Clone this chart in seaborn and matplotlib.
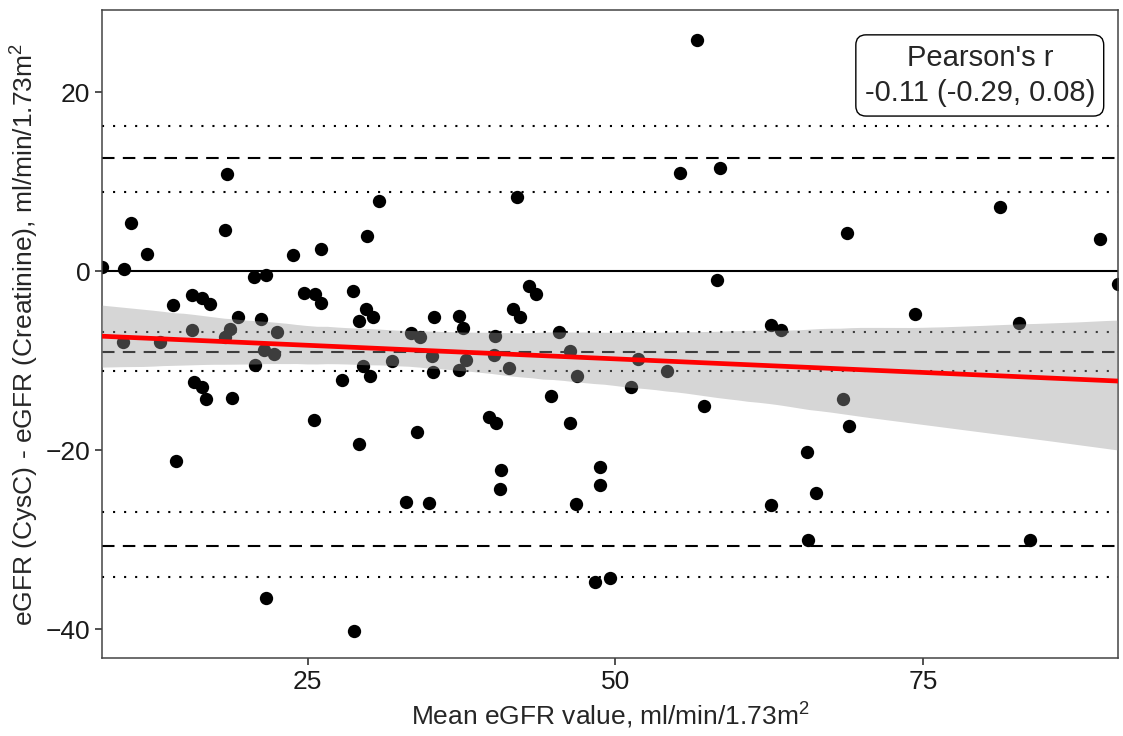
import matplotlib
matplotlib.use("Agg")
import matplotlib.pyplot as plt
import seaborn as sns
import numpy as np

# Mittelwert und Differenz je Patient
mean_egfr = [8.30, 10.08, 10.65, 11.92, 10.02, 13.03, 14.06, 14.33, 15.60, 15.65,
             15.76, 16.46, 16.46, 16.76, 17.11, 18.44, 18.25, 18.30, 18.71, 18.85,
             19.38, 21.61, 20.63, 20.74, 21.23, 21.49, 21.66, 22.28, 22.52, 23.80,
             24.69, 25.55, 25.61, 26.12, 26.12, 27.82, 28.69, 29.16, 29.20, 28.77,
             29.53, 29.75, 29.83, 30.05, 30.32, 30.83, 31.83, 33.00, 33.40, 33.86,
             34.16, 34.84, 35.13, 35.21, 35.29, 37.32, 37.32, 37.65, 37.89, 39.71,
             40.11, 40.24, 40.32, 40.68, 40.63, 41.38, 41.70, 41.98, 42.25, 42.95,
             43.52, 44.79, 45.39, 46.28, 46.31, 46.77, 46.88, 48.31, 48.72, 48.72,
             49.58, 51.28, 51.83, 54.16, 55.24, 56.64, 57.18, 58.24, 58.48, 62.60,
             62.65, 63.41, 65.54, 65.63, 66.25, 68.49, 68.81, 68.98, 74.29, 81.23,
             82.75, 83.62, 89.38, 90.80]
diff_egfr = [0.51, 0.26, 5.35, 1.93, -7.95, -7.91, -3.72, -21.24, -2.67, -6.54,
             -12.33, -2.94, -12.92, -14.22, -3.67, 10.91, 4.60, -7.32, -6.43, -14.11,
             -5.06, -36.49, -0.60, -10.43, -5.35, -8.84, -0.45, -9.21, -6.76, 1.82,
             -2.38, -16.56, -2.56, -3.56, 2.52, -12.10, -2.25, -5.50, -19.31, -40.13,
             -10.62, -4.23, 3.93, -11.66, -5.06, 7.86, -10.07, -25.72, -6.84, -17.93,
             -7.35, -25.91, -9.51, -11.29, -5.06, -4.94, -10.99, -6.35, -9.88, -16.22,
             -9.32, -7.17, -16.93, -22.24, -24.32, -10.80, -4.16, 8.31, -5.06, -1.64,
             -2.56, -13.92, -6.73, -16.93, -8.88, -26.02, -11.74, -34.74, -21.83, -23.91,
             -34.30, -12.94, -9.80, -11.10, 10.98, 25.87, -15.00, -0.97, 11.50, -26.10,
             -5.98, -6.54, -20.23, -30.00, -24.80, -14.28, 4.34, -17.31, -4.76, 7.19,
             -5.72, -30.00, 3.60, -1.45]

# Bias und Limits of Agreement (gestrichelt) mit Konfidenzgrenzen (gepunktet)
loa_lines = [12.7, -9.0, -30.7]
loa_ci_lines = [16.2, 8.9, -6.8, -11.1, -26.9, -34.2]
pearson_text = "Pearson's r\n-0.11 (-0.29, 0.08)"

sns.set_style("ticks")
plt.rcParams['font.family'] = ['Liberation Sans', 'DejaVu Sans']
plt.rcParams['mathtext.fontset'] = 'custom'
plt.rcParams['mathtext.rm'] = 'Liberation Sans'

fig = plt.figure(figsize=(11.23, 7.36), dpi=100)
ax = fig.add_axes([0.0908, 0.106, 0.9047, 0.8804])

ax.set_xlim(min(mean_egfr), max(mean_egfr))
ax.set_ylim(-43.2, 29.2)

ax.axhline(0, color="black", lw=1.5, zorder=1)
for v in loa_lines:
    ax.axhline(v, color="black", lw=1.5, linestyle=(0, (6, 4)), zorder=1)
for v in loa_ci_lines:
    ax.axhline(v, color="black", lw=1.5, linestyle=(0, (1, 4.3)), zorder=1)

sns.scatterplot(x=mean_egfr, y=diff_egfr, color="black", s=92,
                linewidth=0, ax=ax, zorder=2)

# Regressionsgerade mit 95%-Band
sns.regplot(x=mean_egfr, y=diff_egfr, scatter=False, ci=95, seed=0,
            color="#999999", truncate=False, ax=ax,
            line_kws={"lw": 3.4, "zorder": 5})
ax.lines[-1].set_color("red")
band = ax.collections[-1]
band.set_alpha(0.4)
band.set_zorder(4)
band.set_edgecolor("none")

ax.text(0.864, 0.899, pearson_text, transform=ax.transAxes,
        ha="center", va="center", multialignment="center",
        fontsize=21, linespacing=1.35, zorder=6,
        bbox=dict(boxstyle="round,pad=0.3,rounding_size=0.35",
                  fc="white", ec="black", lw=1))

ax.set_xticks([25, 50, 75])
ax.set_yticks([-40, -20, 0, 20])
ax.tick_params(labelsize=19, length=5, width=1.2, color="#333333",
               labelcolor="#1a1a1a")
for s in ax.spines.values():
    s.set_color("#444444")
    s.set_linewidth(1.1)

ax.set_xlabel("Mean eGFR value, ml/min/1.73m$^2$", fontsize=19)
ax.set_ylabel("eGFR (CysC) - eGFR (Creatinine), ml/min/1.73m$^2$", fontsize=19)

plt.savefig("out.png", dpi=100)
plt.close()
